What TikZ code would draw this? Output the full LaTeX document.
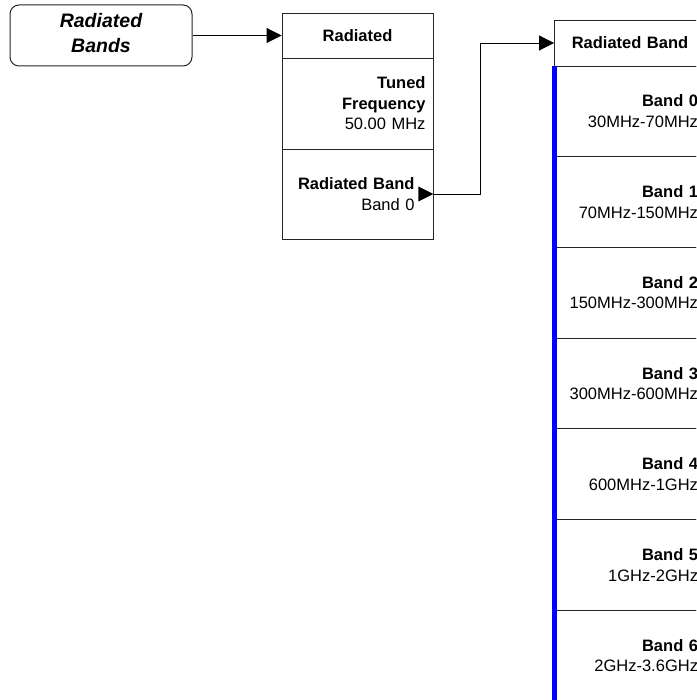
\documentclass[tikz,border=0pt]{standalone}
\usepackage{fontspec}
\setmainfont{Liberation Sans}
\usetikzlibrary{arrows.meta,positioning}
\newcommand{\menufont}{\fontsize{16.5}{20.5}\selectfont}
\newcommand{\titlefont}{\fontsize{19.5}{25}\selectfont\bfseries\itshape}
\newcommand{\tipgap}{\hbox to 11pt{}}

\begin{document}
\begin{tikzpicture}[x=1pt,y=-1pt,
  key/.style={draw=black!85,line width=0.9pt,minimum width=151pt,minimum height=#1,
     inner xsep=7.5pt,inner ysep=0pt,text width=136pt,align=right,font=\menufont},
  key/.default=91pt,
  head/.style={key=#1,align=center,font=\menufont\bfseries},
  arr/.style={-{Triangle[length=15pt,width=15pt]},line width=0.9pt}]
\clip (0,0) rectangle (696,700);
\node[draw=black!85,line width=1pt,rounded corners=9pt,minimum width=182pt,
  minimum height=61pt,inner ysep=0pt,text depth=6pt,align=center,font=\titlefont]
  (bands) at (101,35.5) {Radiated\\Bands};
% Radiated menu
\node[head=45pt] (rad) at (357.5,35.5) {Radiated};
\node[key] (tuned) at (357.5,103.5) {\textbf{Tuned}\\\textbf{Frequency}\\50.00 MHz};
\node[key=90pt] (rband) at (357.5,194) {\textbf{Radiated Band}\tipgap\\Band 0\tipgap};
% Radiated Band menu
\node[head=46pt] (bhead) at (630,43) {Radiated Band};
\node[key=90.7pt] (b0) at (630,111.35) {\textbf{Band 0}\\30MHz-70MHz};
\node[key=90.7pt] (b1) at (630,202.05) {\textbf{Band 1}\\70MHz-150MHz};
\node[key=90.7pt] (b2) at (630,292.75) {\textbf{Band 2}\\150MHz-300MHz};
\node[key=90.7pt] (b3) at (630,383.45) {\textbf{Band 3}\\300MHz-600MHz};
\node[key=90.7pt] (b4) at (630,474.15) {\textbf{Band 4}\\600MHz-1GHz};
\node[key=90.7pt] (b5) at (630,564.85) {\textbf{Band 5}\\1GHz-2GHz};
\node[key=90.7pt] (b6) at (630,655.55) {\textbf{Band 6}\\2GHz-3.6GHz};
\draw[blue,line width=5pt] (b0.north west) -- (b6.south west);
% connectors
\draw[arr] (bands.east) -- (rad.west);
\fill (rband.east) -- ++(-15,-7.5) -- ++(0,15) -- cycle;
\draw[arr] (rband.east) -- ++(47,0) |- (bhead.west);
\end{tikzpicture}
\end{document}
